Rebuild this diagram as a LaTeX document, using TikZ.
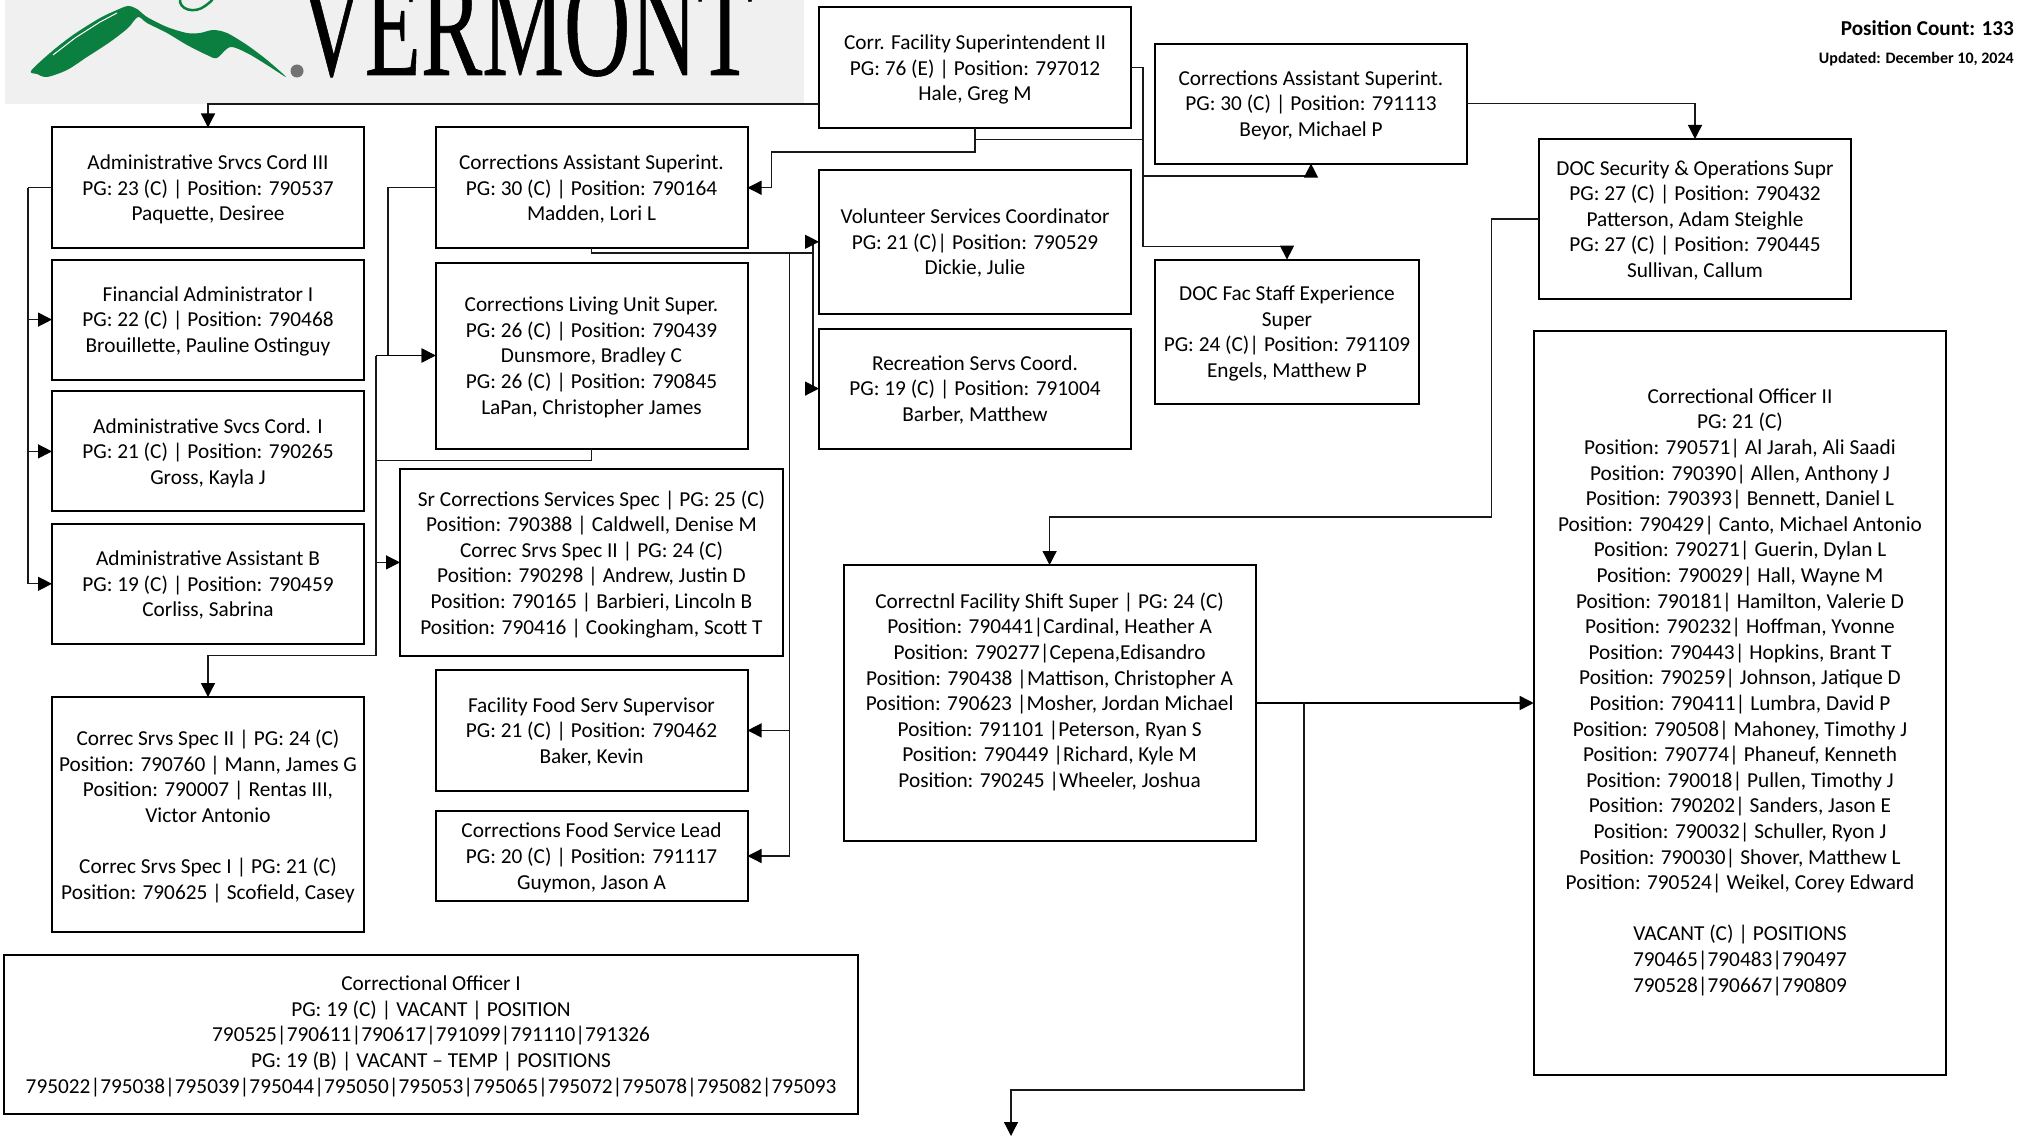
\documentclass[tikz,border=0pt]{standalone}
\usepackage{fontspec}
\usepackage{graphicx}
\setmainfont{Carlito}
\newfontfamily\logofont[FakeBold=0.5]{Liberation Serif}
\usetikzlibrary{arrows.meta}
\definecolor{logogray}{HTML}{F0F0F0}
\definecolor{logogreen}{HTML}{0B7F40}
\tikzset{
  orgbox/.style={draw=black,line width=2pt,align=center,inner sep=0pt,outer sep=0pt,text depth=-1pt,
    font=\fontsize{21.3}{25.6}\selectfont},
  link/.style={draw=black!90,line width=1.3pt},
  heavylink/.style={draw=black,line width=1.7pt},
  tipped/.style={-{Triangle[length=14pt,width=14pt,black]}},
  arrowlink/.style={link,tipped},
  heavyarrow/.style={heavylink,tipped}
}
\begin{document}
\begin{tikzpicture}[x=1pt,y=-1pt]
\useasboundingbox (0,0) rectangle (2021,1137);
% logo
\begin{scope}
\clip (0,0) rectangle (2021,1137);
\fill[logogray] (5,-2) rectangle (804,104);
\fill[logogreen] plot[smooth cycle,tension=0.5] coordinates {(31,71) (50,53) (73,35) (100,18) (117,10) (128,6) (137,9) (147,17) (167,27) (187,33) (200,33) (213,30) (227,33) (247,45) (267,60) (286,77) (267,65) (247,53) (230,47) (217,58) (207,55) (187,45) (167,33) (147,23) (138,17) (128,28) (110,42) (87,57) (67,70) (47,77) (37,74)};
\draw[white,line width=1pt] (53,55) -- (75,38) -- (100,22) -- (117,13);
\draw[logogreen,line width=2.5pt] (180,-2) .. controls (178,10) and (195,14) .. (205,6) .. controls (212,1) and (213,-1) .. (213,-2);
\node[circle,fill=black!55,inner sep=0pt,minimum size=13pt] (regmark) at (297,71) {};
\node[anchor=base west,inner sep=0pt] (logoword) at (298,75) {\logofont\fontsize{92}{92}\selectfont\scalebox{1}[1.6]{VERMONT}};
\end{scope}
%
\node[anchor=base east,inner sep=0pt,font=\fontsize{21.2}{24}\selectfont\bfseries] (poscount) at (2014,36) {Position Count: 133};
\node[anchor=base east,inner sep=0pt,font=\fontsize{16}{18}\selectfont\bfseries] (updated) at (2014,64) {Updated: December 10, 2024};
% top boxes
\node[orgbox,minimum width=312pt,minimum height=120.5pt] (sup) at (975,67.75) {Corr. Facility Superintendent II\\PG: 76 (E) | Position: 797012\\Hale, Greg M};
\node[orgbox,minimum width=312pt,minimum height=120pt] (beyor) at (1311,103.6) {Corrections Assistant Superint.\\PG: 30 (C) | Position: 791113\\Beyor, Michael P};
\node[orgbox,minimum width=312pt,minimum height=160pt] (sec) at (1695,219) {DOC Security \& Operations Supr\\PG: 27 (C) | Position: 790432\\Patterson, Adam Steighle\\PG: 27 (C) | Position: 790445\\Sullivan, Callum};
% left column
\node[orgbox,minimum width=312pt,minimum height=120.5pt] (adm) at (208,187.75) {Administrative Srvcs Cord III\\PG: 23 (C) | Position: 790537\\Paquette, Desiree};
\node[orgbox,minimum width=312pt,minimum height=120pt] (fin) at (208,319.6) {Financial Administrator I\\PG: 22 (C) | Position: 790468\\Brouillette, Pauline Ostinguy};
\node[orgbox,minimum width=312pt,minimum height=120pt] (svc) at (208,451.4) {Administrative Svcs Cord. I\\PG: 21 (C) | Position: 790265\\Gross, Kayla J};
\node[orgbox,minimum width=312pt,minimum height=120pt] (aab) at (208,583.8) {Administrative Assistant B\\PG: 19 (C) | Position: 790459\\Corliss, Sabrina};
\node[orgbox,minimum width=312pt,minimum height=235pt] (srv) at (208,814.5) {Correc Srvs Spec II | PG: 24 (C)\\Position: 790760 | Mann, James G\\Position: 790007 | Rentas III,\\Victor Antonio\\~\\Correc Srvs Spec I | PG: 21 (C)\\Position: 790625 | Scofield, Casey};
% second column
\node[orgbox,minimum width=312pt,minimum height=120.5pt] (madden) at (591.5,187.75) {Corrections Assistant Superint.\\PG: 30 (C) | Position: 790164\\Madden, Lori L};
\node[orgbox,minimum width=312pt,minimum height=186pt] (living) at (591.5,355.5) {Corrections Living Unit Super.\\PG: 26 (C) | Position: 790439\\Dunsmore, Bradley C\\PG: 26 (C) | Position: 790845\\LaPan, Christopher James};
\node[orgbox,minimum width=383pt,minimum height=186.7pt] (srspec) at (591.5,562.4) {Sr Corrections Services Spec | PG: 25 (C)\\Position: 790388 | Caldwell, Denise M\\Correc Srvs Spec II | PG: 24 (C)\\Position: 790298 | Andrew, Justin D\\Position: 790165 | Barbieri, Lincoln B\\Position: 790416 | Cookingham, Scott T};
\node[orgbox,minimum width=312pt,minimum height=121pt] (food) at (591.5,730.4) {Facility Food Serv Supervisor\\PG: 21 (C) | Position: 790462\\Baker, Kevin};
\node[orgbox,minimum width=312pt,minimum height=90.5pt] (lead) at (591.5,856) {Corrections Food Service Lead\\PG: 20 (C) | Position: 791117\\Guymon, Jason A};
\node[orgbox,minimum width=854pt,minimum height=159pt] (coone) at (431,1034.5) {Correctional Officer I\\PG: 19 (C) | VACANT | POSITION\\790525|790611|790617|791099|791110|791326\\PG: 19 (B) | VACANT -- TEMP | POSITIONS\\795022|795038|795039|795044|795050|795053|795065|795072|795078|795082|795093};
% third column
\node[orgbox,minimum width=312pt,minimum height=143.6pt] (vol) at (975,241.8) {Volunteer Services Coordinator\\PG: 21 (C)| Position: 790529\\Dickie, Julie};
\node[orgbox,minimum width=312pt,minimum height=120pt] (rec) at (975,388.6) {Recreation Servs Coord.\\PG: 19 (C) | Position: 791004\\Barber, Matthew};
\node[orgbox,minimum width=264.5pt,minimum height=144.4pt] (exper) at (1287,331.8) {DOC Fac Staff Experience\\Super\\PG: 24 (C)| Position: 791109\\Engels, Matthew P};
\node[orgbox,minimum width=412pt,minimum height=276pt] (shift) at (1049.6,703) {Correctnl Facility Shift Super | PG: 24 (C)\\Position: 790441|Cardinal, Heather A\\Position: 790277|Cepena,Edisandro\\Position: 790438 |Mattison, Christopher A\\Position: 790623 |Mosher, Jordan Michael\\Position: 791101 |Peterson, Ryan S\\Position: 790449 |Richard, Kyle M\\Position: 790245 |Wheeler, Joshua\\~};
\node[orgbox,minimum width=412.6pt,minimum height=743.6pt] (cotwo) at (1740,703) {Correctional Officer II\\PG: 21 (C)\\Position: 790571| Al Jarah, Ali Saadi\\Position: 790390| Allen, Anthony J\\Position: 790393| Bennett, Daniel L\\Position: 790429| Canto, Michael Antonio\\Position: 790271| Guerin, Dylan L\\Position: 790029| Hall, Wayne M\\Position: 790181| Hamilton, Valerie D\\Position: 790232| Hoffman, Yvonne\\Position: 790443| Hopkins, Brant T\\Position: 790259| Johnson, Jatique D\\Position: 790411| Lumbra, David P\\Position: 790508| Mahoney, Timothy J\\Position: 790774| Phaneuf, Kenneth\\Position: 790018| Pullen, Timothy J\\Position: 790202| Sanders, Jason E\\Position: 790032| Schuller, Ryon J\\Position: 790030| Shover, Matthew L\\Position: 790524| Weikel, Corey Edward\\~\\VACANT (C) | POSITIONS\\790465|790483|790497\\790528|790667|790809\\~};
% junctions
\coordinate (suptap) at (819,104);
\coordinate (railtop) at (1143,139.3);
\coordinate (railbey) at (1143,176);
\coordinate (admrail) at (28,187.75);
\coordinate (colrail) at (376,355.5);
\coordinate (srrail) at (376,562.4);
\coordinate (volrail) at (813,241.8);
\coordinate (foodrail) at (789.5,253);
\coordinate (shifttap) at (1304,703);
\coordinate (outend) at (1011,1136);
% superintendent
\draw[arrowlink] (suptap) -| (adm.north);
\draw[arrowlink] (sup.south) --++(0,24) -| (771.7,187.75) -- (madden.east);
\draw[link] (sup.south) |- (railtop);
\draw[arrowlink] (sup.east) --++(12,0) |- (1287,246.8) -- (exper.north);
\draw[arrowlink] (railbey) -| (beyor.south);
\draw[arrowlink] (beyor.east) -| (sec.north);
\draw[arrowlink] (sec.west) --++(-47.5,0) --++(0,298) -| (shift.north);
\draw[heavyarrow] (shift.east) -- (cotwo.west);
\draw[arrowlink] (shifttap) --++(0,387) -| (outend);
% left column rail
\draw[link] (adm.west) -- (admrail);
\draw[arrowlink] (admrail) |- (aab.west);
\draw[arrowlink] (admrail |- fin.west) -- (fin.west);
\draw[arrowlink] (admrail |- svc.west) -- (svc.west);
% madden and living unit
\draw[arrowlink] (madden.west) --++(-47.5,0) |- (living.west);
\draw[heavyarrow] (colrail) -- (living.west);
\draw[link] (living.south) --++(0,12.1) -| (colrail);
\draw[arrowlink] (colrail) --++(0,300) -| (srv.north);
\draw[arrowlink] (srrail) -- (srspec.west);
\draw[link] (madden.south) --++(0,5) -| (volrail);
\draw[arrowlink] (foodrail) |- (food.east);
\draw[arrowlink] (foodrail) |- (lead.east);
\draw[link] (volrail) |- (805,388.6);
\draw[arrowlink] (805,241.8) -- (vol.west);
\draw[arrowlink] (805,388.6) -- (rec.west);
\end{tikzpicture}
\end{document}
